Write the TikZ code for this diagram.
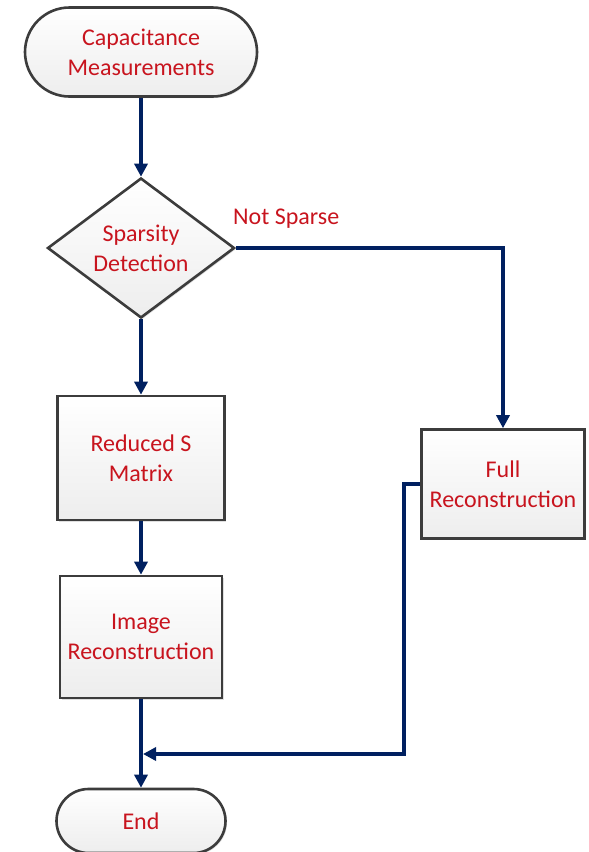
\documentclass[tikz,border=0pt]{standalone}
\usepackage{fontspec}
\setmainfont{Carlito}
\usetikzlibrary{shapes.geometric,shapes.misc,arrows.meta,shadows}
\definecolor{navy}{RGB}{0,32,96}
\definecolor{txtred}{RGB}{200,20,30}
\definecolor{edge}{RGB}{60,60,60}
\tikzset{
  base/.style={draw=edge, line width=2.6pt, top color=white, bottom color=black!7,
    text=txtred, font=\fontsize{24}{30}\selectfont, align=center, inner sep=0pt,
    drop shadow={shadow xshift=1.5pt, shadow yshift=-1.5pt, opacity=0.25}},
  term/.style={base, rounded rectangle},
  procbox/.style={base, rectangle},
  decis/.style={base, diamond, aspect=1.34},
  conn/.style={draw=navy, line width=3.6pt, -{Triangle[length=13pt,width=13pt]}},
}
\begin{document}
\begin{tikzpicture}[x=1pt,y=-1pt]
\useasboundingbox (0,0) rectangle (589,852);
\node[term, minimum width=232pt, minimum height=89pt] (start) at (141,52) {Capacitance\\Measurements};
\node[decis, minimum width=187pt, minimum height=140pt] (sparse) at (141,248) {Sparsity\\Detection};
\node[procbox, minimum width=167pt, minimum height=124pt] (reduced) at (141,458) {Reduced S\\Matrix};
\node[procbox, minimum width=162pt, minimum height=122pt] (image) at (141,637) {Image\\Reconstruction};
\node[procbox, minimum width=163pt, minimum height=109pt] (full) at (503,484) {Full\\Reconstruction};
\node[term, minimum width=169pt, minimum height=64pt] (end) at (141,821) {End};
\node[text=txtred, font=\fontsize{24}{28}\selectfont, anchor=west, inner sep=0pt] (ns) at (233,219) {Not Sparse};
\coordinate (joinR) at (404,754);
\coordinate (joinL) at (141,754);
\draw[conn] (start.south) -- (sparse.north);
\draw[conn] (sparse.south) -- (reduced.north);
\draw[conn] (reduced.south) -- (image.north);
\draw[conn] (image.south) -- (end.north);
\draw[conn] (sparse.east) -- (503,248) -- (full.north);
\draw[conn] (full.west) -- (404,484) -- (joinR) -- ([xshift=2pt]joinL);
\end{tikzpicture}
\end{document}
